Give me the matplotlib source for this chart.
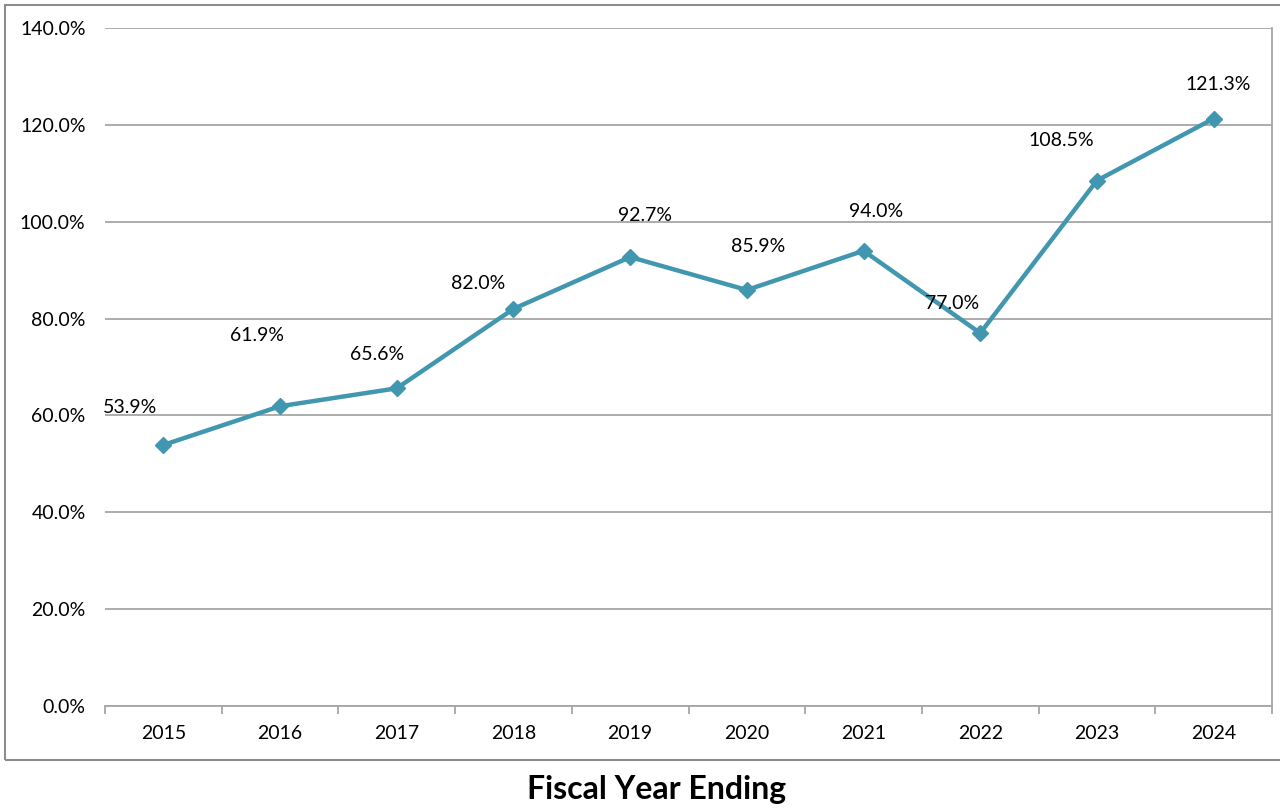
import numpy as np
import matplotlib.pyplot as plt
from matplotlib.patches import Rectangle
from matplotlib.ticker import FuncFormatter

# Values
years = ['2015', '2016', '2017', '2018', '2019', '2020', '2021', '2022', '2023', '2024']
ratio = [53.9, 61.9, 65.6, 82.0, 92.7, 85.9, 94.0, 77.0, 108.5, 121.3]

# label offsets in pixels (dx, dy) - purely placement
label_offsets = [(-33, 37), (-23, 71), (-20, 34), (-35, 25), (15, 42),
                 (11, 43), (13, 39), (-28, 30), (-36, 40), (5, 34)]

plt.rcParams['font.family'] = ['Lato', 'DejaVu Sans']

line_color = '#4197AF'
grid_color = '#A6A6A6'

fig = plt.figure(figsize=(12.8, 8.08), dpi=100)
ax = fig.add_axes([105 / 1280, 1 - 706 / 808, (1272 - 105) / 1280, (706 - 28) / 808])

# outer chart border
fig.patches.append(Rectangle((5 / 1280, 1 - 760 / 808), 1.01, (760 - 5) / 808,
                             transform=fig.transFigure, fill=False,
                             edgecolor='#8C8C8C', linewidth=1.5, zorder=0))

x = np.arange(len(years))
ax.plot(x, ratio, color=line_color, linewidth=3.2, marker='D', markersize=8,
        markeredgecolor=line_color, zorder=3)

for xi, v, (dx, dy) in zip(x, ratio, label_offsets):
    ax.annotate(f'{v:.1f}%', (xi, v), xytext=(dx, dy), textcoords='offset pixels',
                ha='center', va='center', fontsize=14, color='black', zorder=4)

ax.set_xlim(-0.5, len(years) - 0.5)
ax.set_ylim(0, 140)
ax.set_yticks(np.arange(0, 141, 20))
ax.yaxis.set_major_formatter(FuncFormatter(lambda v, p: f'{v:.1f}%'))
ax.yaxis.grid(True, color=grid_color, linewidth=1.3)
ax.set_axisbelow(True)

ax.set_xticks(x)
ax.set_xticklabels(years)
ax.set_xticks(np.arange(-0.5, len(years), 1), minor=True)
ax.tick_params(axis='x', which='major', length=0, pad=14, labelsize=14)
ax.tick_params(axis='x', which='minor', length=6, width=1.3, color=grid_color)
ax.tick_params(axis='y', length=0, pad=14, labelsize=14)

for side in ['left', 'top']:
    ax.spines[side].set_visible(False)
ax.spines['bottom'].set_color(grid_color)
ax.spines['bottom'].set_linewidth(1.3)
ax.spines['right'].set_color(grid_color)
ax.spines['right'].set_linewidth(1.3)

fig.text(657 / 1280, 1 - 790 / 808, 'Fiscal Year Ending', ha='center', va='center',
         fontsize=23, fontweight='bold')

fig.savefig('out.png', dpi=100)
